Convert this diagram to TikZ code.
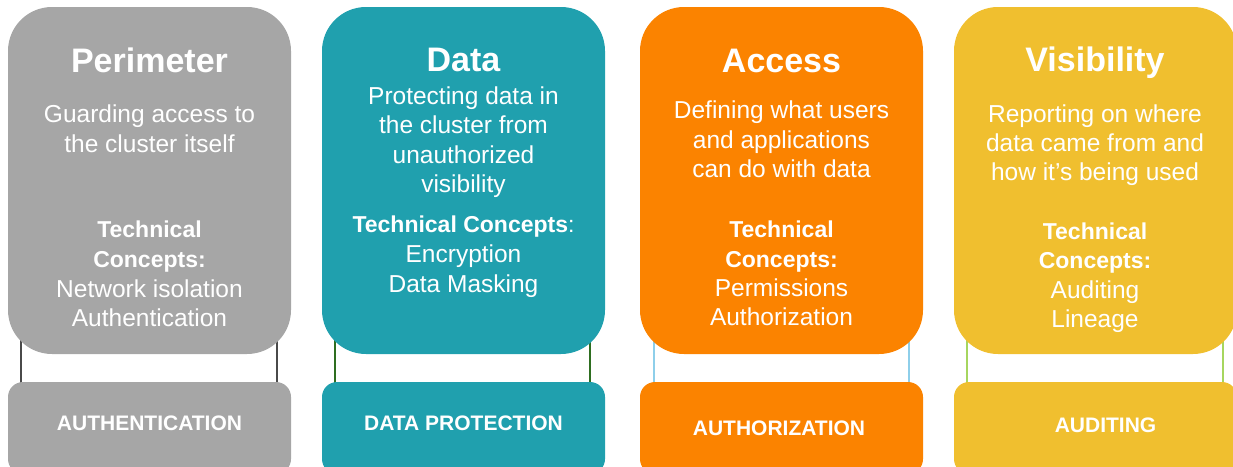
\documentclass[tikz,border=0pt]{standalone}
\usepackage{fontspec}
\setmainfont{Liberation Sans}
\definecolor{cgray}{HTML}{A6A6A6}
\definecolor{cteal}{HTML}{20A0AE}
\definecolor{corange}{HTML}{FB8300}
\definecolor{cyellow}{HTML}{F0BF2F}
\definecolor{lgray}{HTML}{4A4A4A}
\definecolor{lteal}{HTML}{2E6E20}
\definecolor{lorange}{HTML}{8ECFEA}
\definecolor{lyellow}{HTML}{A6D65F}
\pgfdeclarelayer{bg}
\pgfsetlayers{bg,main}
\begin{document}
\begin{tikzpicture}[x=1pt,y=-1pt,
  topbox/.style={draw=none,inner sep=0pt,minimum width=283pt,minimum height=347pt,rounded corners=44pt},
  botbox/.style={draw=none,inner sep=0pt,minimum width=283pt,minimum height=92pt,rounded corners=15pt},
  conn/.style={line width=2pt},
  ttl/.style={anchor=base,text=white,inner sep=0pt,font=\fontsize{34}{40}\selectfont\bfseries},
  bd/.style={anchor=base,text=white,inner sep=0pt,font=\fontsize{24.5}{29}\selectfont},
  bb/.style={anchor=base,text=white,inner sep=0pt,font=\fontsize{23}{29}\selectfont\bfseries},
  lbl/.style={anchor=base,text=white,inner sep=0pt,font=\fontsize{21}{25}\selectfont\bfseries}]
\useasboundingbox (0,0) rectangle (1233,466);
\clip (0,0) rectangle (1233,466);
% boxes
\node[topbox,fill=cgray]   (p)  at (149.5,180.5) {};
\node[botbox,fill=cgray]   (pb) at (149.5,428) {};
\node[topbox,fill=cteal]   (d)  at (463.5,180.5) {};
\node[botbox,fill=cteal]   (db) at (463.5,428) {};
\node[topbox,fill=corange] (a)  at (781.5,180.5) {};
\node[botbox,fill=corange] (ab) at (781.5,428) {};
\node[topbox,fill=cyellow] (v)  at (1095.5,180.5) {};
\node[botbox,fill=cyellow] (vb) at (1095.5,428) {};
% connectors
\begin{pgfonlayer}{bg}
\draw[conn,draw=lgray] ([xshift=13.5pt,yshift=20pt]p.south west) -- ([xshift=13.5pt,yshift=-2pt]pb.north west);
\draw[conn,draw=lgray] ([xshift=-14.5pt,yshift=20pt]p.south east) -- ([xshift=-14.5pt,yshift=-2pt]pb.north east);
\draw[conn,draw=lteal] ([xshift=13.5pt,yshift=20pt]d.south west) -- ([xshift=13.5pt,yshift=-2pt]db.north west);
\draw[conn,draw=lteal] ([xshift=-15.5pt,yshift=20pt]d.south east) -- ([xshift=-15.5pt,yshift=-2pt]db.north east);
\draw[conn,draw=lorange] ([xshift=14pt,yshift=20pt]a.south west) -- ([xshift=14pt,yshift=-2pt]ab.north west);
\draw[conn,draw=lorange] ([xshift=-14pt,yshift=20pt]a.south east) -- ([xshift=-14pt,yshift=-2pt]ab.north east);
\draw[conn,draw=lyellow] ([xshift=13.5pt,yshift=20pt]v.south west) -- ([xshift=13.5pt,yshift=-2pt]vb.north west);
\draw[conn,draw=lyellow] ([xshift=-14.5pt,yshift=20pt]v.south east) -- ([xshift=-14.5pt,yshift=-2pt]vb.north east);
\end{pgfonlayer}
% column 1
\node[ttl] (p1) at (149.5,72) {Perimeter};
\node[bd]  (p2) at (149.5,122) {Guarding access to};
\node[bd]  (p3) at (149.5,152) {the cluster itself};
\node[bb]  (p4) at (149.5,237) {Technical};
\node[bb]  (p5) at (149.5,267) {Concepts:};
\node[bd]  (p6) at (149.5,297) {Network isolation};
\node[bd]  (p7) at (149.5,326) {Authentication};
\node[lbl] (p8) at (149.5,430) {AUTHENTICATION};
% column 2
\node[ttl] (d1) at (463.5,71) {Data};
\node[bd]  (d2) at (463.5,104) {Protecting data in};
\node[bd]  (d3) at (463.5,133) {the cluster from};
\node[bd]  (d4) at (463.5,163) {unauthorized};
\node[bd]  (d5) at (463.5,192) {visibility};
\node[bb]  (d6) at (463.5,232) {Technical Concepts\mdseries:};
\node[bd]  (d7) at (463.5,262) {Encryption};
\node[bd]  (d8) at (463.5,292) {Data Masking};
\node[lbl] (d9) at (463.5,430) {DATA PROTECTION};
% column 3
\node[ttl] (a1) at (781.5,72) {Access};
\node[bd]  (a2) at (781.5,118) {Defining what users};
\node[bd]  (a3) at (781.5,148) {and applications};
\node[bd]  (a4) at (781.5,177) {can do with data};
\node[bb]  (a5) at (781.5,237) {Technical};
\node[bb]  (a6) at (781.5,267) {Concepts:};
\node[bd]  (a7) at (781.5,296) {Permissions};
\node[bd]  (a8) at (781.5,325) {Authorization};
\node[lbl] (a9) at (779,435) {AUTHORIZATION};
% column 4
\node[ttl] (v1) at (1095,71) {Visibility};
\node[bd]  (v2) at (1095,122) {Reporting on where};
\node[bd]  (v3) at (1095,151) {data came from and};
\node[bd]  (v4) at (1095,180) {how it’s being used};
\node[bb]  (v5) at (1095,239) {Technical};
\node[bb]  (v6) at (1095,268) {Concepts:};
\node[bd]  (v7) at (1095,298) {Auditing};
\node[bd]  (v8) at (1095,327) {Lineage};
\node[lbl] (v9) at (1105.5,432) {AUDITING};
\end{tikzpicture}
\end{document}
